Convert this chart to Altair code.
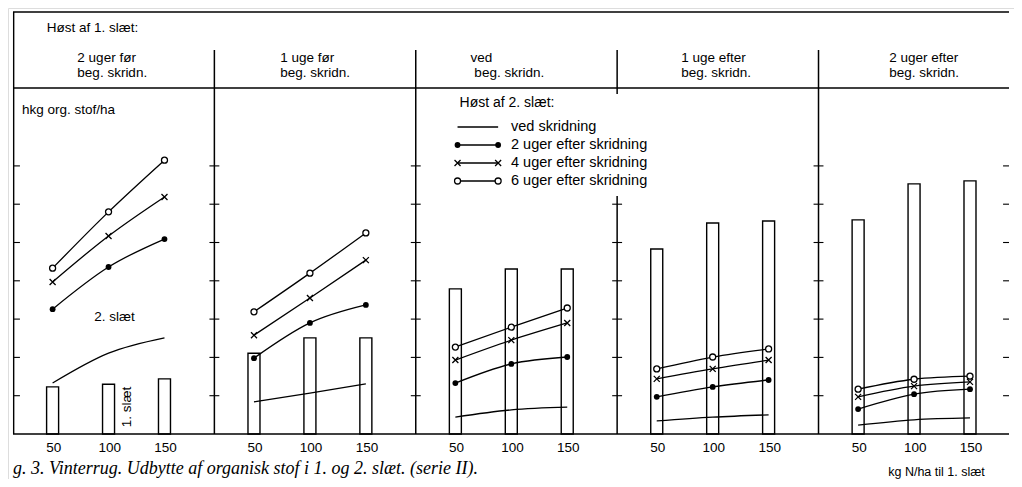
import altair as alt
import pandas as pd

# ---------------- data ----------------
n_levels = [50, 100, 150]                      # kg N/ha til 1. slæt
panel_line1 = ["2 uger før", "1 uge før", "ved", "1 uge efter", "2 uger efter"]
panel_line2 = ["beg. skridn.", "beg. skridn.", "beg. skridn.", "beg. skridn.", "beg. skridn."]

# 1. slæt (bars), hkg org. stof/ha
slaet1 = [[12.3, 13.0, 14.4],
          [21.1, 25.1, 25.1],
          [37.9, 43.1, 43.1],
          [48.3, 55.1, 55.6],
          [55.9, 65.3, 66.1]]

series_names = ["ved skridning", "2 uger efter skridning",
                "4 uger efter skridning", "6 uger efter skridning"]
ved = [[13.3, 21.1, 25.1], [8.4, 10.7, 13.1], [4.4, 6.3, 7.0], [3.4, 4.4, 5.0], [2.3, 3.7, 4.2]]
uger2 = [[32.6, 43.6, 50.9], [19.8, 29.0, 33.7], [13.3, 18.3, 20.1], [9.7, 12.3, 14.1], [6.5, 10.4, 11.7]]
uger4 = [[39.7, 51.7, 61.9], [25.8, 35.5, 45.4], [19.3, 24.5, 29.0], [14.4, 17.0, 19.3], [9.7, 12.5, 13.6]]
uger6 = [[43.3, 58.0, 71.5], [31.9, 42.0, 52.5], [22.7, 27.9, 32.9], [17.0, 20.1, 22.2], [11.7, 14.3, 15.1]]
series_values = [ved, uger2, uger4, uger6]
y_ticks = [10, 20, 30, 40, 50, 60, 70]

# ---------------- layout ----------------
W, H = 1006, 471
PXN = 1.13            # pixels per kg N
N0 = 14.6             # N value at each panel's left edge
PANEL_W = 180.0       # panel width in N units
KY = 3.83             # pixels per hkg
XMAX = W / PXN
YMAX = (434 - 8) / KY
YMIN = YMAX - H / KY

def ux(px):
    return (px - 8) / PXN

def uy(py):
    return (434 - py) / KY

def gx(i, n):
    return i * PANEL_W + n - N0

xs = alt.Scale(domain=[0, XMAX], nice=False, zero=False)
ys = alt.Scale(domain=[YMIN, YMAX], nice=False, zero=False)

def X(f):
    return alt.X(f, type="quantitative", scale=xs, axis=None)

def Y(f):
    return alt.Y(f, type="quantitative", scale=ys, axis=None)

FONT = "Liberation Sans"
FS = 13.5

# bars
bar_rows = []
for i in range(5):
    for j, n in enumerate(n_levels):
        bar_rows.append({"panel": i, "N": n, "gx": gx(i, n), "v": slaet1[i][j]})
bars_df = pd.DataFrame(bar_rows)
bars = alt.Chart(bars_df).mark_bar(size=12, fill="white", stroke="black", strokeWidth=1.4).encode(
    x=X("gx"), y=Y("v"), y2=alt.Y2(datum=0))

# lines
line_rows = []
for s, name in enumerate(series_names):
    for i in range(5):
        for j, n in enumerate(n_levels):
            line_rows.append({"series": name, "key": f"{s}-{i}", "panel": i, "N": n,
                              "gx": gx(i, n), "v": series_values[s][i][j]})
lines_df = pd.DataFrame(line_rows)
lines = alt.Chart(lines_df).mark_line(interpolate="monotone", color="black", strokeWidth=1.3).encode(
    x=X("gx"), y=Y("v"), detail="key:N")

XSHAPE = "M-1,-1L1,1M-1,1L1,-1"
def pts(df, name):
    d = df[df.series == name]
    if name == series_names[1]:
        m = alt.Chart(d).mark_point(shape="circle", filled=True, size=34, color="black", opacity=1)
    elif name == series_names[2]:
        m = alt.Chart(d).mark_point(shape=XSHAPE, filled=False, size=36, color="black", strokeWidth=1.3, opacity=1)
    else:
        m = alt.Chart(d).mark_point(shape="circle", filled=False, size=36, color="black", fill="white",
                                    fillOpacity=1, strokeWidth=1.3, opacity=1)
    return m.encode(x=X("gx"), y=Y("v"))

points = [pts(lines_df, n) for n in series_names[1:]]

# frame rules
rule_rows = []
rule_rows.append({"x": 0, "x2": XMAX, "y": uy(12), "y2": uy(12), "w": 1.4})     # top frame
rule_rows.append({"x": 0, "x2": XMAX, "y": uy(88), "y2": uy(88), "w": 1.7})     # header line
rule_rows.append({"x": 0, "x2": XMAX, "y": 0, "y2": 0, "w": 1.7})               # baseline
rule_rows.append({"x": 0.6, "x2": 0.6, "y": uy(12), "y2": 0, "w": 1.4})         # left line
for i in range(1, 5):
    d = i * PANEL_W
    if i == 3:
        # divider interrupted where the legend text runs across it
        rule_rows.append({"x": d, "x2": d, "y": uy(50), "y2": uy(94), "w": 1.5})
        rule_rows.append({"x": d, "x2": d, "y": uy(196), "y2": 0, "w": 1.5})
    else:
        rule_rows.append({"x": d, "x2": d, "y": uy(50), "y2": 0, "w": 1.5})
for t in y_ticks:
    rule_rows.append({"x": 0, "x2": ux(15), "y": t, "y2": t, "w": 1.1})
    for i in range(1, 5):
        d = i * PANEL_W
        if i == 3 and uy(196) < t:
            continue
        rule_rows.append({"x": d - 5 / PXN, "x2": d + 5 / PXN, "y": t, "y2": t, "w": 1.1})
    rule_rows.append({"x": ux(1008), "x2": XMAX, "y": t, "y2": t, "w": 1.1})
rules_df = pd.DataFrame(rule_rows)
rules = alt.Chart(rules_df).mark_rule(color="black").encode(
    x=X("x"), x2="x2", y=Y("y"), y2="y2", strokeWidth=alt.StrokeWidth("w:Q", scale=None))

# text helper
def txt(text, px, py, size=FS, align="left", angle=0, font=FONT, style="normal", baseline="middle"):
    df = pd.DataFrame({"t": [text], "x": [ux(px)], "y": [uy(py)]})
    kw = dict(align=align, baseline=baseline, fontSize=size, font=font, fontStyle=style, color="black")
    if angle:
        kw["angle"] = angle
    return alt.Chart(df).mark_text(**kw).encode(x=X("x"), y=Y("y"), text="t:N")

texts = []
texts.append(txt("Høst af 1. slæt:", 42, 28))
header_left_px = [73, 278, 470, 683, 893]
for i in range(5):
    texts.append(txt(panel_line1[i], header_left_px[i], 58))
    texts.append(txt(panel_line2[i], header_left_px[i] + (4 if i == 2 else 0), 73))
texts.append(txt("hkg org. stof/ha", 17, 110))
texts.append(txt("2. slæt", 90, 317))
texts.append(txt("1. slæt", 123, 407, align="center", angle=270))
texts.append(txt("Høst af 2. slæt:", 459, 103, 14))

# x labels
lab_rows = []
for i in range(5):
    for n in n_levels:
        lab_rows.append({"t": str(n), "x": gx(i, n) + 1, "y": uy(448)})
labs = alt.Chart(pd.DataFrame(lab_rows)).mark_text(fontSize=FS, font=FONT, color="black",
                                                    align="center", baseline="middle").encode(
    x=X("x"), y=Y("y"), text="t:N")

# legend (manual, inside panel 3)
leg_y = [127, 145, 163, 181]
leg_rows = []
for k, name in enumerate(series_names):
    for px in (457, 498):
        leg_rows.append({"series": name, "x": ux(px), "y": uy(leg_y[k])})
leg_df = pd.DataFrame(leg_rows)
leg_line = alt.Chart(leg_df).mark_line(color="black", strokeWidth=1.3).encode(
    x=X("x"), y=Y("y"), detail="series:N")
leg_points = []
for name in series_names[1:]:
    d = leg_df[leg_df.series == name].rename(columns={"x": "gx", "y": "v"})
    leg_points.append(pts(d, name))
leg_text_df = pd.DataFrame({"t": series_names, "x": [ux(511)] * 4, "y": [uy(v) for v in leg_y]})
leg_text = alt.Chart(leg_text_df).mark_text(fontSize=14.5, font=FONT, color="black", align="left",
                                            baseline="middle").encode(x=X("x"), y=Y("y"), text="t:N")

texts.append(txt("g. 3. Vinterrug. Udbytte af organisk stof i 1. og 2. slæt. (serie II).", 8, 474, 18,
                 font="Liberation Serif", style="italic", baseline="alphabetic"))
texts.append(txt("kg N/ha til 1. slæt", 892, 476, 12.5, baseline="alphabetic"))

chart = alt.layer(bars, rules, lines, *points, labs, leg_line, *leg_points, leg_text, *texts).properties(
    width=W, height=H, padding=0, autosize=alt.AutoSizeParams(type="none")
).configure_view(stroke=None).configure(background="white")

chart.save("out.html", embed_options={"renderer": "svg", "actions": False})
